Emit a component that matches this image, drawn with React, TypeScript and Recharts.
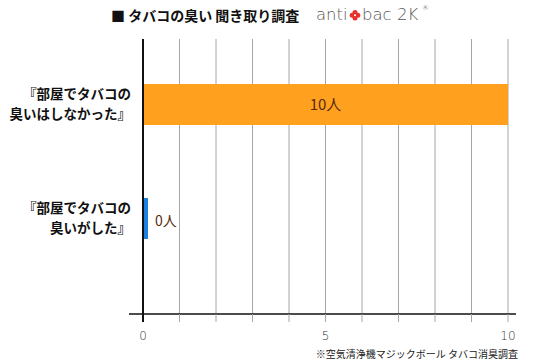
import React from 'react';
import {
  BarChart,
  Bar,
  XAxis,
  YAxis,
  CartesianGrid,
  Cell,
  LabelList,
  ReferenceLine,
} from 'recharts';

// ---- data ----
const categoryLine1 = ['『部屋でタバコの', '『部屋でタバコの'];
const categoryLine2 = ['臭いはしなかった』', '臭いがした』'];
const categoryKeys = ['notSmelled', 'smelled'];
const counts = [10, 0];
const countUnit = '人';
const barColors = ['#FFA11F', '#1E80DF'];
const xTicks = [0, 1, 2, 3, 4, 5, 6, 7, 8, 9, 10];
const xTickLabels = [0, 5, 10];
const titleText = '■ タバコの臭い 聞き取り調査';
const footnoteText = '※空気清浄機マジックボール タバコ消臭調査';

const data = categoryKeys.map((k, i) => ({
  key: k,
  line1: categoryLine1[i],
  line2: categoryLine2[i],
  value: counts[i],
}));

const JP = '"Noto Sans CJK JP", "Noto Sans", sans-serif';
const LABEL_COLOR = '#5a2b0e';

const YTick = (props: any) => {
  const { x, y, payload } = props;
  const idx = categoryKeys.indexOf(payload.value);
  const row = data[idx];
  if (!row) return null;
  return (
    <text
      x={x + 2}
      y={y}
      textAnchor="end"
      fontFamily={JP}
      fontWeight={700}
      fontSize={13.5}
      fill="#111"
    >
      <tspan x={x + 2} dy={-5}>{row.line1}</tspan>
      <tspan x={x + 2} dy={20}>{row.line2}</tspan>
    </text>
  );
};

const XTick = (props: any) => {
  const { x, y, payload } = props;
  const v = payload.value;
  const tickSize = 8;
  const tickMargin = 9;
  return (
    <g>
      {v === 0 && (
        <line
          x1={x}
          x2={x}
          y1={y - tickSize - tickMargin}
          y2={y - tickMargin}
          stroke="#111"
          strokeWidth={2}
        />
      )}
      {xTickLabels.includes(v) && (
        <text
          x={x}
          y={y}
          dy="0.71em"
          textAnchor="middle"
          fontFamily='"DejaVu Sans", sans-serif'
          fontWeight={200}
          fontSize={12}
          fill="#333"
        >
          {v}
        </text>
      )}
    </g>
  );
};

const BarLabel = (props: any) => {
  const { x, y, width, height, value } = props;
  const cy = y + height / 2;
  if (value > 0) {
    return (
      <text
        x={x + width / 2}
        y={cy}
        dy="0.36em"
        textAnchor="middle"
        fontFamily={JP}
        fontSize={15}
        fill={LABEL_COLOR}
      >
        {`${value}${countUnit}`}
      </text>
    );
  }
  return (
    <text
      x={x + width + 7}
      y={cy + 2}
      dy="0.36em"
      textAnchor="start"
      fontFamily={JP}
      fontSize={14}
      fill={LABEL_COLOR}
    >
      {`${value}${countUnit}`}
    </text>
  );
};

export default function App() {
  return (
    <div
      style={{
        position: 'absolute',
        left: 0,
        top: 0,
        width: 545,
        height: 363,
        background: '#fff',
      }}
    >
      <BarChart
        width={545}
        height={363}
        data={data}
        layout="vertical"
        margin={{ top: 39, right: 29, bottom: 19, left: 0 }}
      >
        <CartesianGrid
          horizontal={false}
          vertical={true}
          syncWithTicks={true}
          stroke="#a6a6a6"
          strokeWidth={1}
        />
        <XAxis
          type="number"
          domain={[0, 10]}
          ticks={xTicks}
          interval={0}
          padding={{ left: 14, right: 8 }}
          height={30}
          tickSize={8}
          tickMargin={9}
          tickLine={{ stroke: '#a6a6a6', strokeWidth: 1 }}
          axisLine={{ stroke: '#111', strokeWidth: 1.5 }}
          tick={XTick}
        />
        <YAxis
          type="category"
          dataKey="key"
          width={129}
          padding={{ top: 8, bottom: 39 }}
          axisLine={false}
          tickLine={false}
          tickSize={0}
          tickMargin={0}
          tick={YTick}
        />
        <ReferenceLine x={0} stroke="#111" strokeWidth={2} />
        <Bar
          dataKey="value"
          barSize={41}
          minPointSize={5}
          isAnimationActive={false}
        >
          {data.map((d, i) => (
            <Cell key={d.key} fill={barColors[i]} />
          ))}
          <LabelList dataKey="value" content={BarLabel} />
        </Bar>
      </BarChart>
      <svg
        width={545}
        height={363}
        style={{ position: 'absolute', left: 0, top: 0, pointerEvents: 'none' }}
      >
        <text
          x={111}
          y={20.5}
          fontFamily={JP}
          fontWeight={700}
          fontSize={14}
          fill="#111"
        >
          {titleText}
        </text>
        <g fontFamily='"DejaVu Sans", sans-serif' fontWeight={200} fill="#555" fontSize={16.5}>
          <text x={316} y={20}>anti</text>
          <g fill="#e8322c">
            <circle cx={355} cy={12.4} r={2.5} />
            <circle cx={355} cy={18} r={2.5} />
            <circle cx={352.2} cy={15.2} r={2.5} />
            <circle cx={357.8} cy={15.2} r={2.5} />
            <circle cx={355} cy={15.2} r={1} fill="#fff" />
          </g>
          <text x={362} y={20}>bac</text>
          <text x={397} y={20}>2K</text>
          <text x={422} y={10} fontSize={7}>®</text>
        </g>
        <text
          x={518}
          y={358}
          textAnchor="end"
          fontFamily={JP}
          fontSize={10}
          fill="#222"
        >
          {footnoteText}
        </text>
      </svg>
    </div>
  );
}
